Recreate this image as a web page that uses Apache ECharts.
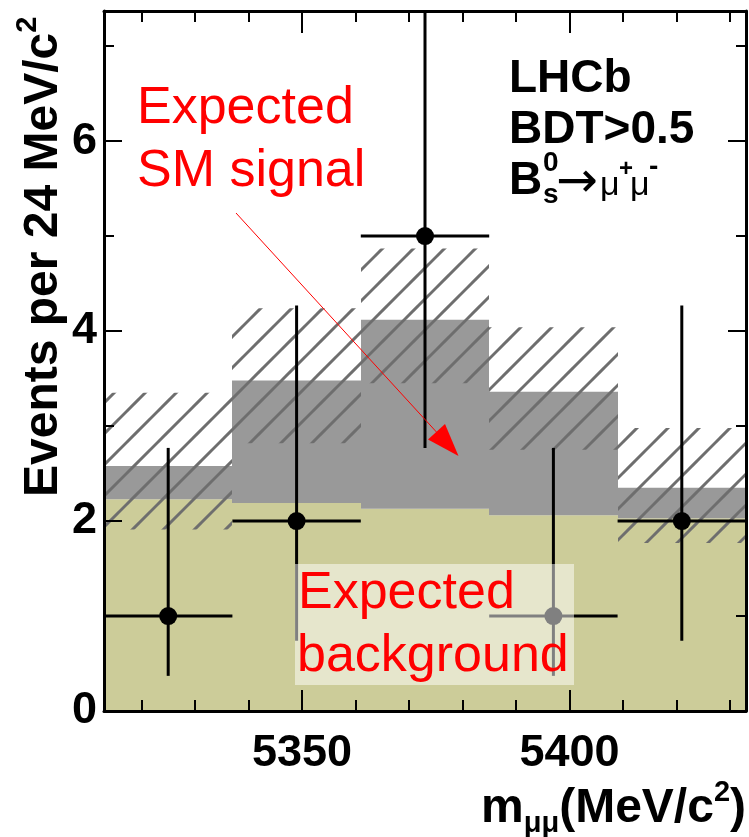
<!DOCTYPE html>
<html><head><meta charset="utf-8">
<script src="https://cdn.jsdelivr.net/npm/echarts@6/dist/echarts.min.js"></script>
<style>html,body{margin:0;padding:0;background:#fff}#c{width:749px;height:837px}</style>
</head><body><div id="c"></div>
<script>
// ---- data ----
const binEdges = [5313, 5337, 5361, 5385, 5409, 5433];
const binCenters = [5325, 5349, 5373, 5397, 5421];
const background = [2.23, 2.19, 2.13, 2.06, 2.03];
const signalPlusBackground = [2.58, 3.48, 4.12, 3.36, 2.35];
const bandLow = [1.91, 2.82, 3.45, 2.75, 1.77];
const bandHigh = [3.35, 4.24, 4.87, 4.04, 2.98];
const observed = [1, 2, 5, 1, 2];
const errLow = [0.37, 0.74, 2.77, 0.37, 0.74];
const errHigh = [2.77, 4.27, 8.4, 2.77, 4.27];
const xMajorTicks = [5350, 5400];
const xMinorTicks = [5320, 5330, 5340, 5360, 5370, 5380, 5390, 5410, 5420, 5430];
const yMajorTicks = [0, 2, 4, 6];
const yMinorTicks = [1, 3, 5, 7];

const FONT = 'Liberation Sans';
const X0 = 5313, X1 = 5433, Y0 = 0, Y1 = 7.37;

function hatchCanvas() {
  const s = 31, c = document.createElement('canvas');
  c.width = s; c.height = s;
  const g = c.getContext('2d');
  g.strokeStyle = '#6e6e6e'; g.lineWidth = 3;
  for (const k of [-31, 0, 31, 62]) {
    g.beginPath(); g.moveTo(-12, 23 + k); g.lineTo(23 + k, -12); g.stroke();
  }
  return c;
}

function xAxisCfg(pos, ticks, len, withLabel, withLine) {
  return {
    type: 'value', position: pos, min: X0, max: X1, z: 50,
    axisLine: { show: withLine, onZero: false, lineStyle: { color: '#000', width: 3 } },
    axisTick: { show: true, inside: true, length: len, customValues: ticks, lineStyle: { color: '#000', width: 2 } },
    axisLabel: withLabel ? { show: true, customValues: ticks, formatter: v => String(v), color: '#000',
      fontFamily: FONT, fontWeight: 'bold', fontSize: 45, margin: 20 } : { show: false },
    splitLine: { show: false }, minorTick: { show: false }, minorSplitLine: { show: false }
  };
}
function yAxisCfg(pos, ticks, len, withLabel, withLine) {
  return {
    type: 'value', position: pos, min: Y0, max: Y1, z: 50,
    axisLine: { show: withLine, onZero: false, lineStyle: { color: '#000', width: 3 } },
    axisTick: { show: true, inside: true, length: len, customValues: ticks, lineStyle: { color: '#000', width: 2 } },
    axisLabel: withLabel ? { show: true, customValues: ticks, formatter: v => String(v), color: '#000',
      fontFamily: FONT, fontWeight: 'bold', fontSize: 45, margin: 7 } : { show: false },
    splitLine: { show: false }, minorTick: { show: false }, minorSplitLine: { show: false }
  };
}

function rectRender(fill) {
  return function (params, api) {
    const a = api.coord([api.value(0), api.value(3)]);
    const b = api.coord([api.value(1), api.value(2)]);
    const xa = Math.round(a[0]), xb = Math.round(b[0]);
    return { type: 'rect', shape: { x: xa, y: a[1], width: xb - xa, height: b[1] - a[1] },
      style: { fill: fill } };
  };
}
function errRender(params, api) {
  const l = api.coord([api.value(2), api.value(1)]);
  const r = api.coord([api.value(3), api.value(1)]);
  const lo = api.coord([api.value(0), api.value(4)]);
  const hi = api.coord([api.value(0), api.value(5)]);
  return { type: 'group', children: [
    { type: 'line', shape: { x1: l[0], y1: l[1], x2: r[0], y2: r[1] }, style: { stroke: '#000', lineWidth: 3 } },
    { type: 'line', shape: { x1: lo[0], y1: lo[1], x2: hi[0], y2: hi[1] }, style: { stroke: '#000', lineWidth: 3 } }
  ] };
}

const mctx = document.createElement('canvas').getContext('2d');
function measure(font, t) { mctx.font = font; return mctx.measureText(t).width; }
function pieces(list, x0, baseline, z) {
  let x = x0; const els = [];
  for (const p of list) {
    const font = (p.w || 'normal') + ' ' + p.s + 'px "' + (p.f || FONT) + '"';
    const px = (p.x !== undefined) ? p.x : x;
    els.push({ type: 'text', x: px, y: baseline + (p.dy || 0) - 0.3465 * p.s, z: z || 100,
      style: { text: p.t, font: font, fill: p.c || '#000', textAlign: 'left', textVerticalAlign: 'middle' } });
    if (!p.noAdvance) x = px + measure(font, p.t);
  }
  return { els: els, width: x - x0 };
}

const bkgData = background.map((v, i) => [binEdges[i], binEdges[i + 1], 0, v]);
const sigData = signalPlusBackground.map((v, i) => [binEdges[i], binEdges[i + 1], background[i], v]);
const bandData = bandLow.map((v, i) => [binEdges[i], binEdges[i + 1], v, bandHigh[i]]);
const errData = observed.map((v, i) => [binCenters[i], v, binEdges[i], binEdges[i + 1], errLow[i], errHigh[i]]);
const ptData = observed.map((v, i) => [binCenters[i], v]);

// annotation text
const gfx = [];
// y title (rotated)
const yTitleList = [
  { t: 'Events per 24 MeV/c', s: 48, w: 'bold' },
  { t: '2', s: 29, w: 'bold', dy: -22 }
];
gfx.push({ type: 'group', x: 60, y: 497, rotation: Math.PI / 2, children: pieces(yTitleList, 0, 0).els });
// x title
const xTitleList = [
  { t: 'm', s: 48, w: 'bold' },
  { t: 'μμ', s: 29, w: 'bold', dy: 9 },
  { t: '(MeV/c', s: 48, w: 'bold' },
  { t: '2', s: 29, w: 'bold', dy: -22 },
  { t: ')', s: 48, w: 'bold' }
];
const xtW = pieces(xTitleList, 0, 0).width;
gfx.push(...pieces(xTitleList, 746 - xtW, 825).els);
// LHCb label
gfx.push(...pieces([{ t: 'LHCb', s: 46, w: 'bold' }], 509, 95).els);
gfx.push(...pieces([{ t: 'BDT>0.5', s: 46, w: 'bold' }], 509, 146.5).els);
gfx.push(...pieces([
  { t: 'B', s: 46, w: 'bold', x: 509 },
  { t: '0', s: 28, w: 'bold', dy: -24, x: 543 },
  { t: 's', s: 28, w: 'bold', dy: 8, x: 543 },
  { t: '→', s: 50, f: 'DejaVu Sans', dy: 4, x: 556 },
  { t: 'μ', s: 34, x: 600 },
  { t: '+', s: 24, w: 'bold', dy: -19, x: 619 },
  { t: 'μ', s: 34, x: 630 },
  { t: '-', s: 28, w: 'bold', dy: -20, x: 649 }
], 509, 197).els);
// Expected SM signal
gfx.push(...pieces([{ t: 'Expected', s: 52, c: '#ff0000' }], 137, 127).els);
gfx.push(...pieces([{ t: 'SM signal', s: 52, c: '#ff0000' }], 137, 190).els);
// arrow
gfx.push({ type: 'line', z: 100, shape: { x1: 236, y1: 213, x2: 452, y2: 449 }, style: { stroke: '#ff0000', lineWidth: 1 } });
gfx.push({ type: 'polygon', z: 100, shape: { points: [[428, 439.5], [445, 424], [458.5, 456]] }, style: { fill: '#ff0000' } });
// background box + label
gfx.push({ type: 'rect', z: 99, shape: { x: 295, y: 564, width: 279, height: 121 }, style: { fill: 'rgba(255,255,255,0.5)' } });
gfx.push(...pieces([{ t: 'Expected', s: 52, c: '#ff0000' }], 298, 612).els);
gfx.push(...pieces([{ t: 'background', s: 52, c: '#ff0000' }], 297, 675).els);

const chart = echarts.init(document.getElementById('c'), null, { renderer: 'canvas', width: 749, height: 837 });
chart.setOption({
  animation: false,
  backgroundColor: '#ffffff',
  grid: { left: 104, right: 3, top: 11, bottom: 126, containLabel: false, outerBoundsMode: 'none' },
  xAxis: [
    xAxisCfg('bottom', xMajorTicks, 21, true, true),
    xAxisCfg('bottom', xMinorTicks, 11, false, false),
    xAxisCfg('top', xMajorTicks, 22, false, true),
    xAxisCfg('top', xMinorTicks, 11, false, false)
  ],
  yAxis: [
    yAxisCfg('left', yMajorTicks, 18, true, true),
    yAxisCfg('left', yMinorTicks, 10, false, false),
    yAxisCfg('right', yMajorTicks, 18, false, true),
    yAxisCfg('right', yMinorTicks, 10, false, false)
  ],
  series: [
    { type: 'custom', name: 'background', data: bkgData, renderItem: rectRender('#cccc99'), clip: true, z: 2,
      encode: { x: [0, 1], y: [2, 3] }, silent: true },
    { type: 'custom', name: 'signal', data: sigData, renderItem: rectRender('#999999'), clip: true, z: 3,
      encode: { x: [0, 1], y: [2, 3] }, silent: true },
    { type: 'custom', name: 'uncertainty', data: bandData,
      renderItem: rectRender({ image: hatchCanvas(), repeat: 'repeat' }), clip: true, z: 4,
      encode: { x: [0, 1], y: [2, 3] }, silent: true },
    { type: 'custom', name: 'data errors', data: errData, renderItem: errRender, clip: true, z: 5,
      encode: { x: 0, y: 1 }, silent: true },
    { type: 'scatter', name: 'data', data: ptData, symbol: 'circle', symbolSize: 18, z: 6,
      itemStyle: { color: '#000', opacity: 1 }, silent: true }
  ],
  graphic: gfx
});
</script>
</body></html>
